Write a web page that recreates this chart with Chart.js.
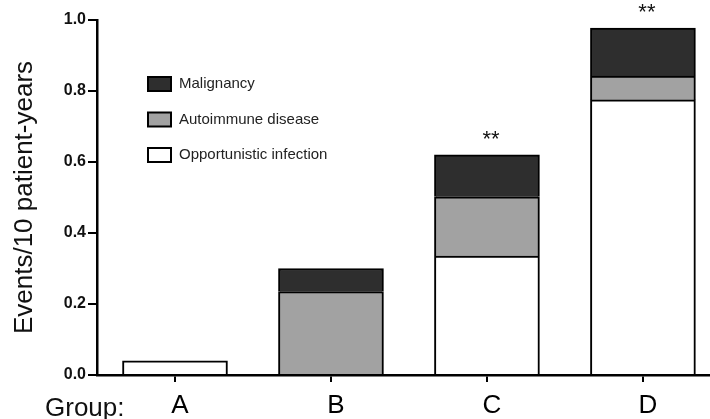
<!DOCTYPE html>
<html>
<head>
<meta charset="utf-8">
<script src="https://cdn.jsdelivr.net/npm/chart.js@4/dist/chart.umd.min.js"></script>
<style>
  html, body { margin: 0; padding: 0; background: #fff; }
  #wrap { width: 710px; height: 419px; position: relative; }
</style>
</head>
<body>
<div id="wrap"><canvas id="chart"></canvas></div>
<script>
// data
const groups = ['A', 'B', 'C', 'D'];
const opportunistic = [0.04, null, 0.335, 0.775];
const autoimmune = [null, 0.235, 0.167, 0.067];
const malignancy = [null, 0.065, 0.118, 0.135];
const significance = ['', '', '**', '**'];
const yTicks = [0, 0.2, 0.4, 0.6, 0.8, 1.0];

const FONT = "'Liberation Sans', Arial, sans-serif";

function toPoints(arr) {
    return arr.map((v, i) => ({ x: i, y: v }));
}

// inset legend, drawn from the datasets (top of stack first)
const insetLegend = {
    id: 'insetLegend',
    afterDraw(chart) {
        const ctx = chart.ctx;
        const items = chart.data.datasets.slice().reverse();
        ctx.save();
        items.forEach((ds, k) => {
            const y = 77 + k * 35.5;
            ctx.fillStyle = ds.backgroundColor;
            ctx.fillRect(148, y, 23, 14);
            ctx.lineWidth = 2;
            ctx.strokeStyle = '#000';
            ctx.strokeRect(148, y, 23, 14);
            ctx.fillStyle = '#222';
            ctx.font = '15px ' + FONT;
            ctx.textBaseline = 'middle';
            ctx.textAlign = 'left';
            ctx.fillText(ds.label, 179, y + 7);
        });
        ctx.restore();
    }
};

// "**" above stacks, and "Group:" caption
const annotations = {
    id: 'annotations',
    afterDraw(chart) {
        const ctx = chart.ctx;
        const xs = chart.scales.x, ys = chart.scales.y;
        ctx.save();
        ctx.fillStyle = '#111';
        ctx.font = '22px ' + FONT;
        ctx.textAlign = 'center';
        ctx.textBaseline = 'alphabetic';
        groups.forEach((g, i) => {
            if (!significance[i]) return;
            const total = (opportunistic[i] || 0) + (autoimmune[i] || 0) + (malignancy[i] || 0);
            ctx.fillText(significance[i], xs.getPixelForValue(i) + 4, ys.getPixelForValue(total) - 9);
        });
        ctx.font = '26px ' + FONT;
        ctx.textAlign = 'left';
        ctx.fillText('Group:', 45, 416);
        ctx.restore();
    }
};

const ctx = document.getElementById('chart');

new Chart(ctx, {
    type: 'bar',
    data: {
        datasets: [
            {
                label: 'Opportunistic infection',
                data: toPoints(opportunistic),
                backgroundColor: '#ffffff',
                borderColor: '#000',
                borderWidth: 2
            },
            {
                label: 'Autoimmune disease',
                data: toPoints(autoimmune),
                backgroundColor: '#a2a2a2',
                borderColor: '#000',
                borderWidth: 2
            },
            {
                label: 'Malignancy',
                data: toPoints(malignancy),
                backgroundColor: '#2e2e2e',
                borderColor: '#000',
                borderWidth: 2
            }
        ]
    },
    options: {
        responsive: true,
        maintainAspectRatio: false,
        animation: false,
        barThickness: 105,
        layout: { padding: { top: 20, right: 0, left: 0, bottom: 0 } },
        scales: {
            x: {
                type: 'linear',
                stacked: true,
                offset: false,
                min: -0.5,
                max: 3.43,
                afterBuildTicks(scale) {
                    scale.ticks = groups.map((g, i) => ({ value: i }));
                },
                afterFit(scale) { scale.height = 44; },
                ticks: {
                    callback: (v) => groups[v],
                    color: '#000',
                    font: { family: FONT, size: 26 },
                    padding: 8,
                    labelOffset: 5,
                    maxRotation: 0
                },
                grid: {
                    display: true,
                    offset: false,
                    drawOnChartArea: false,
                    drawTicks: true,
                    tickLength: 7,
                    color: '#000',
                    lineWidth: 2
                },
                border: { display: true, color: '#000', width: 2.5 }
            },
            y: {
                stacked: true,
                min: 0,
                max: 1.0,
                afterBuildTicks(scale) {
                    scale.ticks = yTicks.map(v => ({ value: v }));
                },
                afterFit(scale) { scale.width = 97; },
                ticks: {
                    callback: (v) => v.toFixed(1),
                    color: '#111',
                    font: { family: FONT, size: 16, weight: 'bold' },
                    padding: 2
                },
                grid: {
                    display: true,
                    drawOnChartArea: false,
                    drawTicks: true,
                    tickLength: 9,
                    color: '#000',
                    lineWidth: 2
                },
                border: { display: true, color: '#000', width: 2.5 },
                title: {
                    display: true,
                    text: 'Events/10 patient-years',
                    color: '#111',
                    font: { family: FONT, size: 26, lineHeight: 1.2 },
                    padding: { top: 9, bottom: 0 }
                }
            }
        },
        plugins: {
            legend: { display: false },
            tooltip: { enabled: false }
        }
    },
    plugins: [insetLegend, annotations]
});
</script>
</body>
</html>
